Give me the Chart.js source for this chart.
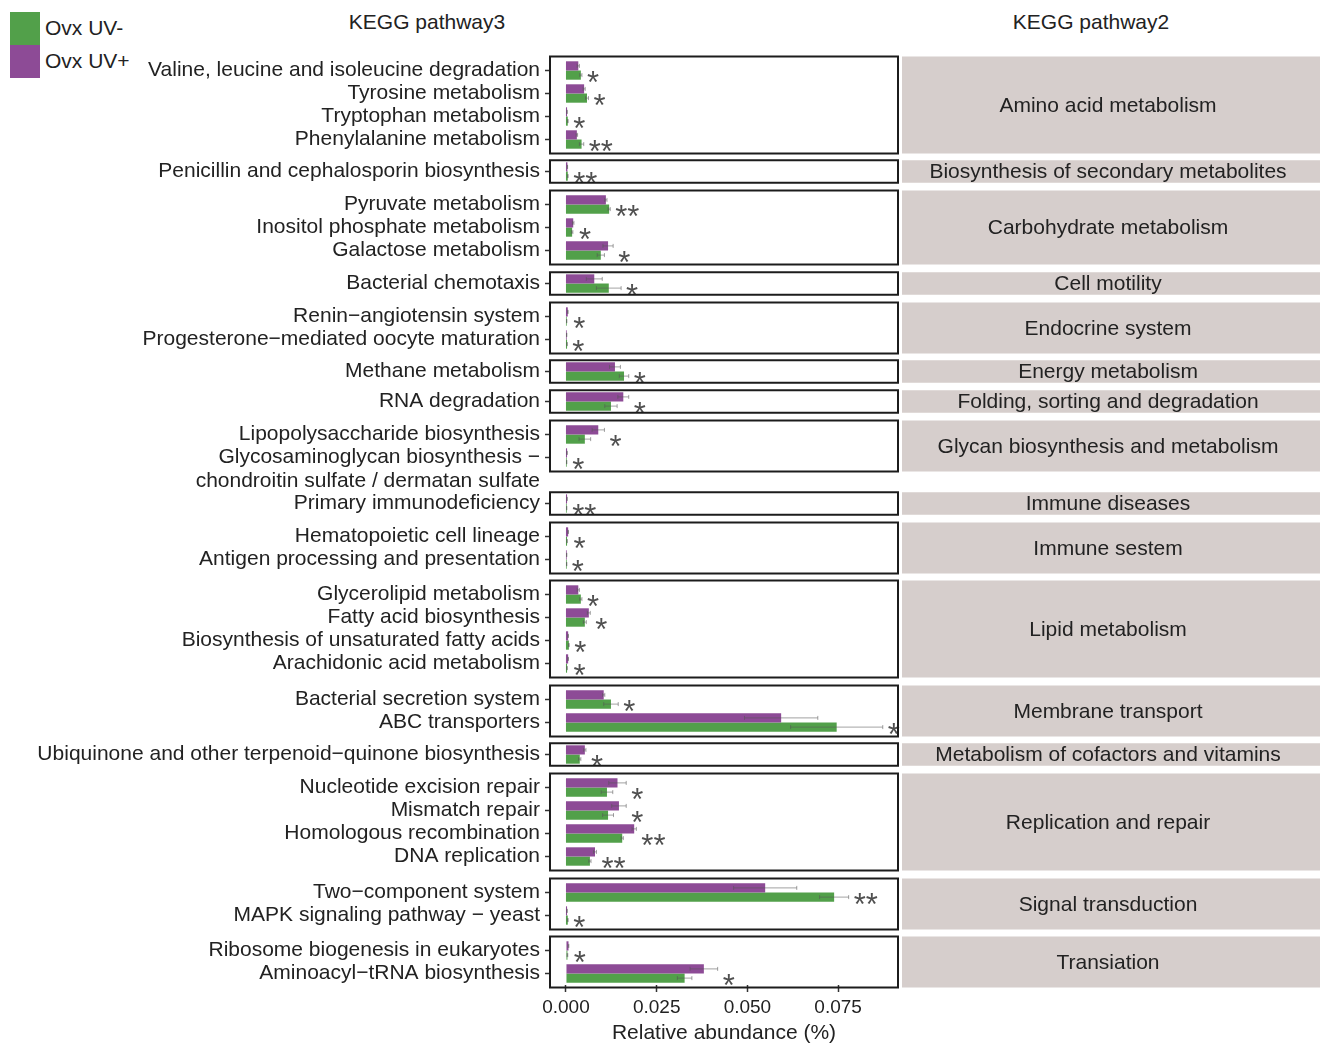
<!DOCTYPE html>
<html>
<head>
<meta charset="utf-8">
<script src="https://cdn.jsdelivr.net/npm/chart.js@4.4.1/dist/chart.umd.min.js"></script>
<style>
  html, body { margin: 0; padding: 0; background: #fff; overflow: hidden; }
  #page { position: relative; width: 1320px; height: 1043px; overflow: hidden;
          font-family: 'Liberation Sans', Arial, sans-serif; color: #222; }
  #page canvas { position: absolute; left: 0; }
  .txt { position: absolute; white-space: nowrap; font-size: 21px; line-height: 24px; }
  .swatch { position: absolute; left: 10px; width: 30px; height: 33px; }
</style>
</head>
<body>
<div id="page"></div>
<script>
// KEGG level-2 groups (right-hand strips)
const groups = [
  'Amino acid metabolism',
  'Biosynthesis of secondary metabolites',
  'Carbohydrate metabolism',
  'Cell motility',
  'Endocrine system',
  'Energy metabolism',
  'Folding, sorting and degradation',
  'Glycan biosynthesis and metabolism',
  'Immune diseases',
  'Immune sestem',
  'Lipid metabolism',
  'Membrane transport',
  'Metabolism of cofactors and vitamins',
  'Replication and repair',
  'Signal transduction',
  'Transiation'
];

// KEGG level-3 pathways (y categories)
const pathways = [
  'Valine, leucine and isoleucine degradation',
  'Tyrosine metabolism',
  'Tryptophan metabolism',
  'Phenylalanine metabolism',
  'Penicillin and cephalosporin biosynthesis',
  'Pyruvate metabolism',
  'Inositol phosphate metabolism',
  'Galactose metabolism',
  'Bacterial chemotaxis',
  'Renin\u2212angiotensin system',
  'Progesterone\u2212mediated oocyte maturation',
  'Methane metabolism',
  'RNA degradation',
  'Lipopolysaccharide biosynthesis',
  'Glycosaminoglycan biosynthesis \u2212\nchondroitin sulfate / dermatan sulfate',
  'Primary immunodeficiency',
  'Hematopoietic cell lineage',
  'Antigen processing and presentation',
  'Glycerolipid metabolism',
  'Fatty acid biosynthesis',
  'Biosynthesis of unsaturated fatty acids',
  'Arachidonic acid metabolism',
  'Bacterial secretion system',
  'ABC transporters',
  'Ubiquinone and other terpenoid\u2212quinone biosynthesis',
  'Nucleotide excision repair',
  'Mismatch repair',
  'Homologous recombination',
  'DNA replication',
  'Two\u2212component system',
  'MAPK signaling pathway \u2212 yeast',
  'Ribosome biogenesis in eukaryotes',
  'Aminoacyl\u2212tRNA biosynthesis'
];

// index into groups for each pathway
const pathwayGroup = [0,0,0,0, 1, 2,2,2, 3, 4,4, 5, 6, 7,7, 8, 9,9,
                      10,10,10,10, 11,11, 12, 13,13,13,13, 14,14, 15,15];

// Relative abundance (%), mean and standard error
const uvPlusMean  = [0.0034,0.0050,0.0003,0.0030, 0.0004, 0.0110,0.0020,0.0116, 0.0078,
                     0.0005,0.0002, 0.0135, 0.0158, 0.0089,0.0003, 0.0003, 0.0006,0.0002,
                     0.0034,0.0063,0.0006,0.0006, 0.0104,0.0593, 0.0052,
                     0.0142,0.0146,0.0188,0.0080, 0.0549,0.0003, 0.0007,0.0380];
const uvPlusSe    = [0.0003,0.0003,0.00005,0.0002, 0.00005, 0.0003,0.0002,0.0014, 0.0022,
                     0.0001,0.00005, 0.0015, 0.0015, 0.0017,0.00005, 0.00005, 0.0001,0.00005,
                     0.0003,0.0004,0.0001,0.0001, 0.0003,0.0101, 0.0003,
                     0.0024,0.0020,0.0006,0.0004, 0.0087,0.00005, 0.0001,0.0038];
const uvMinusMean = [0.0041,0.0058,0.0005,0.0043, 0.0005, 0.0119,0.0017,0.0096, 0.0118,
                     0.0002,0.0003, 0.0160, 0.0124, 0.0052,0.0002, 0.0002, 0.0003,0.0002,
                     0.0041,0.0052,0.0008,0.0003, 0.0124,0.0746, 0.0038,
                     0.0113,0.0116,0.0155,0.0066, 0.0739,0.0005, 0.0004,0.0327];
const uvMinusSe   = [0.0003,0.0004,0.0001,0.0006, 0.0001, 0.0003,0.0002,0.0010, 0.0034,
                     0.00005,0.00005, 0.0013, 0.0017, 0.0016,0.00005, 0.00005, 0.00005,0.00005,
                     0.0003,0.0004,0.0001,0.00005, 0.0020,0.0127, 0.0003,
                     0.0016,0.0015,0.0003,0.0003, 0.0040,0.0001, 0.0001,0.0020];
const signif = ['*','*','*','**', '**', '**','*','*', '*', '*','*', '*', '*', '*','*', '**', '*','*',
                '*','*','*','*', '*','*', '*', '*','*','**','**', '**','*', '*','*'];

const xTicks = [0, 0.025, 0.05, 0.075];
const seriesNames = ['Ovx UV-', 'Ovx UV+'];

// ---- styling / layout ----
const FONT = "'Liberation Sans', Arial, sans-serif";
const GREEN = '#52a04a';
const PURPLE = '#8d4b96';
const STRIP_FILL = '#d6cecc';
const TEXT = '#222';
const W = 1320, PLOT_L = 550, PLOT_R = 898;
const ROW = 23, GAP = 7.5, TOP0 = 56, PAD = 50, AXIS_H = 61, EXTRA_GAP = 13;
const X_MIN = -0.0044, X_MAX = 0.0915;
const STRIP_TEXT_X = 1108;

const page = document.getElementById('page');

function addText(str, left, top, align) {
  const d = document.createElement('div');
  d.className = 'txt';
  d.textContent = str;
  d.style.top = top + 'px';
  d.style.left = left + 'px';
  if (align === 'center') d.style.transform = 'translateX(-50%)';
  page.appendChild(d);
}

// legend
[GREEN, PURPLE].forEach((c, i) => {
  const s = document.createElement('div');
  s.className = 'swatch';
  s.style.top = (12 + i * 33) + 'px';
  s.style.background = c;
  page.appendChild(s);
  addText(seriesNames[i], 45, 16 + i * 33);
});
addText('KEGG pathway3', 427, 10, 'center');
addText('KEGG pathway2', 1091, 10, 'center');

// panel frame, strip, error bars and significance marks
const panelPlugin = {
  id: 'panel',
  beforeDraw(chart, args, o) {
    const { ctx, chartArea: a } = chart;
    const top = a.top - o.ext;
    ctx.save();
    ctx.fillStyle = STRIP_FILL;
    ctx.fillRect(a.right + 4, top, W - a.right - 4, o.boxH);
    ctx.fillStyle = TEXT;
    ctx.font = '21px ' + FONT;
    ctx.textAlign = 'center';
    ctx.textBaseline = 'middle';
    ctx.fillText(o.group, STRIP_TEXT_X, top + o.boxH / 2 + 1);
    ctx.restore();
  },
  afterDatasetsDraw(chart, args, o) {
    const { ctx, chartArea: a, scales } = chart;
    const xs = scales.x;
    const metaP = chart.getDatasetMeta(0), metaM = chart.getDatasetMeta(1);
    ctx.save();
    // error bars
    ctx.strokeStyle = 'rgba(85,85,85,0.55)';
    ctx.lineWidth = 1;
    [[metaP, o.plusMean, o.plusSe], [metaM, o.minusMean, o.minusSe]].forEach(([meta, m, se]) => {
      meta.data.forEach((bar, i) => {
        const x1 = xs.getPixelForValue(m[i] - se[i]);
        const x2 = xs.getPixelForValue(m[i] + se[i]);
        const y = bar.y, c = 2;
        ctx.beginPath();
        ctx.moveTo(x1, y); ctx.lineTo(x2, y);
        ctx.moveTo(x1, y - c); ctx.lineTo(x1, y + c);
        ctx.moveTo(x2, y - c); ctx.lineTo(x2, y + c);
        ctx.stroke();
      });
    });
    // significance stars, right of the longer error bar
    ctx.fillStyle = '#505050';
    ctx.font = '31px ' + FONT;
    ctx.textAlign = 'left';
    ctx.textBaseline = 'alphabetic';
    o.stars.forEach((s, i) => {
      const right = Math.max(xs.getPixelForValue(o.plusMean[i] + o.plusSe[i]),
                             xs.getPixelForValue(o.minusMean[i] + o.minusSe[i]));
      const yc = metaM.data[i].y + 2;
      const mt = ctx.measureText(s);
      const base = yc + (mt.actualBoundingBoxAscent - mt.actualBoundingBoxDescent) / 2;
      ctx.fillText(s, right + 5, base);
    });
    // panel border
    ctx.strokeStyle = '#1c1c1c';
    ctx.lineWidth = 2;
    ctx.strokeRect(a.left, a.top - o.ext, a.right - a.left, o.boxH);
    ctx.restore();
  }
};

let yPos = TOP0;
groups.forEach((g, gi) => {
  const idx = pathways.map((_, i) => i).filter(i => pathwayGroup[i] === gi);
  const n = idx.length;
  const boxH = n === 1 ? 22.5 : ROW * (n - 1) + 28;
  const ext = (boxH - n * ROW) / 2;
  const last = gi === groups.length - 1;
  // multi-line labels: first line sits on the tick, the rest hang below
  let multi = false;
  const labels = idx.map(i => {
    const lines = pathways[i].split('\n');
    if (lines.length === 1) return lines[0];
    multi = true;
    return Array(lines.length - 1).fill('').concat(lines);
  });
  const pick = arr => idx.map(i => arr[i]);

  const canvas = document.createElement('canvas');
  const h = PAD + n * ROW + (last ? AXIS_H : 0) + PAD;
  canvas.width = W;
  canvas.height = h;
  canvas.style.width = W + 'px';
  canvas.style.height = h + 'px';
  canvas.style.top = (yPos + ext - PAD) + 'px';
  page.appendChild(canvas);

  new Chart(canvas, {
    type: 'bar',
    data: {
      labels: labels,
      datasets: [
        { label: seriesNames[1], data: pick(uvPlusMean), backgroundColor: PURPLE, borderWidth: 0 },
        { label: seriesNames[0], data: pick(uvMinusMean), backgroundColor: GREEN, borderWidth: 0 }
      ]
    },
    options: {
      indexAxis: 'y',
      responsive: false,
      animation: false,
      events: [],
      devicePixelRatio: 1,
      categoryPercentage: 0.8,
      barPercentage: 1.0,
      layout: { padding: { left: 0, right: W - PLOT_R, top: PAD, bottom: PAD } },
      plugins: {
        legend: { display: false },
        tooltip: { enabled: false },
        panel: {
          group: g, boxH: boxH, ext: ext,
          plusMean: pick(uvPlusMean), plusSe: pick(uvPlusSe),
          minusMean: pick(uvMinusMean), minusSe: pick(uvMinusSe),
          stars: pick(signif)
        }
      },
      scales: {
        y: {
          type: 'category',
          offset: true,
          grid: { display: true, offset: false, drawOnChartArea: false, drawTicks: true,
                  tickLength: 5, tickColor: '#333', tickWidth: 1.5 },
          border: { display: false },
          ticks: { autoSkip: false, padding: 5, color: TEXT,
                   font: { family: FONT, size: 21, lineHeight: 1.15 } },
          afterFit: s => { s.width = PLOT_L; }
        },
        x: {
          type: 'linear',
          display: last,
          min: X_MIN,
          max: X_MAX,
          afterBuildTicks: s => { s.ticks = xTicks.map(v => ({ value: v })); },
          grid: { display: true, drawOnChartArea: false, drawTicks: true,
                  tickLength: 7, tickColor: '#333', tickWidth: 1.5 },
          border: { display: false },
          ticks: { padding: 4, color: TEXT, font: { family: FONT, size: 19 },
                   callback: v => v.toFixed(3) },
          title: { display: true, text: 'Relative abundance (%)', color: TEXT,
                   font: { family: FONT, size: 21 }, padding: { top: 0, bottom: 0 } },
          afterFit: s => { if (last) s.height = AXIS_H; }
        }
      }
    },
    plugins: [panelPlugin]
  });

  yPos += boxH + GAP + (multi ? EXTRA_GAP : 0);
});
</script>
</body>
</html>
